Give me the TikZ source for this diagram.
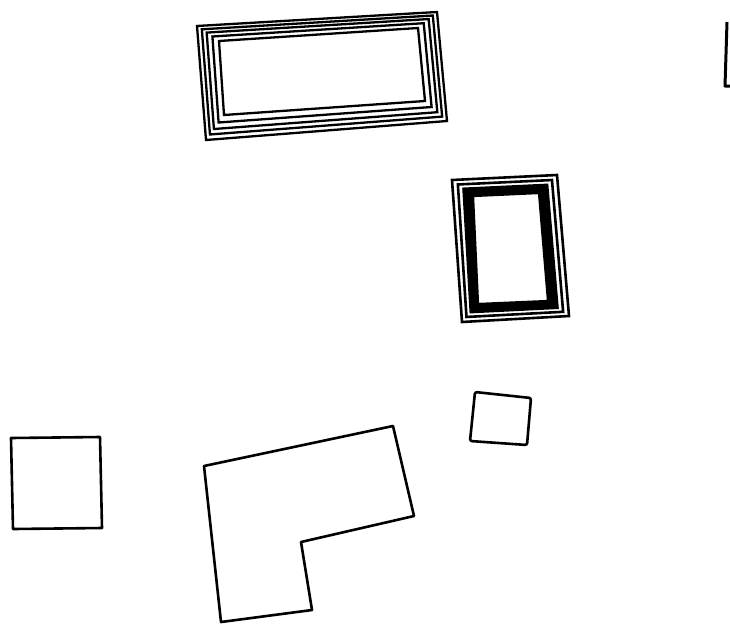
\documentclass[tikz,border=0pt]{standalone}
\usetikzlibrary{calc}
\begin{document}
\begin{tikzpicture}[x=1pt,y=-1pt,
  outline/.style={draw=black,line width=2.6pt,line join=round},
  frameline/.style={draw=black,line width=2.3pt,line join=miter},
  darkframe/.style={draw=black,line width=2.6pt,line join=miter}]
\useasboundingbox (0,0) rectangle (730,624);
% top frame
\coordinate (a1) at (197,26); \coordinate (a2) at (437,12);
\coordinate (a3) at (447,121); \coordinate (a4) at (206,140);
\coordinate (b1) at (219,41); \coordinate (b2) at (418,28);
\coordinate (b3) at (425,101); \coordinate (b4) at (224,115);
\foreach \t in {0,0.22,0.44,0.7,1}{
  \draw[frameline] ($(a1)!\t!(b1)$) -- ($(a2)!\t!(b2)$) -- ($(a3)!\t!(b3)$) -- ($(a4)!\t!(b4)$) -- cycle;
}
% right frame
\coordinate (c1) at (452,180); \coordinate (c2) at (557,175);
\coordinate (c3) at (569,316); \coordinate (c4) at (462,322);
\coordinate (d1) at (473,196); \coordinate (d2) at (539,193);
\coordinate (d3) at (548,301); \coordinate (d4) at (478,304);
\foreach \t in {0,0.28}{
  \draw[darkframe] ($(c1)!\t!(d1)$) -- ($(c2)!\t!(d2)$) -- ($(c3)!\t!(d3)$) -- ($(c4)!\t!(d4)$) -- cycle;
}
\fill[black,even odd rule] ($(c1)!0.55!(d1)$) -- ($(c2)!0.55!(d2)$) -- ($(c3)!0.55!(d3)$) -- ($(c4)!0.55!(d4)$) -- cycle
  (d1) -- (d2) -- (d3) -- (d4) -- cycle;
\draw[darkframe] ($(c1)!0.55!(d1)$) -- ($(c2)!0.55!(d2)$) -- ($(c3)!0.55!(d3)$) -- ($(c4)!0.55!(d4)$) -- cycle;
\draw[frameline] (d1) -- (d2) -- (d3) -- (d4) -- cycle;
% partial shape at right edge
\coordinate (e1) at (727,22); \coordinate (e2) at (725,86); \coordinate (e3) at (731,86);
\draw[outline,line width=3pt] (e1) -- (e2) -- (e3);
% small square
\coordinate (s1) at (475,392); \coordinate (s2) at (531,398);
\coordinate (s3) at (527,445); \coordinate (s4) at (470,441);
\draw[outline,rounded corners=2pt] (s1) -- (s2) -- (s3) -- (s4) -- cycle;
% left square
\coordinate (q1) at (11,438); \coordinate (q2) at (100,437);
\coordinate (q3) at (102,528); \coordinate (q4) at (13,529);
\draw[outline] (q1) -- (q2) -- (q3) -- (q4) -- cycle;
% L shape
\coordinate (l1) at (204,466); \coordinate (l2) at (393,426);
\coordinate (l3) at (414,516); \coordinate (l4) at (301,542);
\coordinate (l5) at (312,610); \coordinate (l6) at (221,622);
\draw[outline] (l1) -- (l2) -- (l3) -- (l4) -- (l5) -- (l6) -- cycle;
\end{tikzpicture}
\end{document}
